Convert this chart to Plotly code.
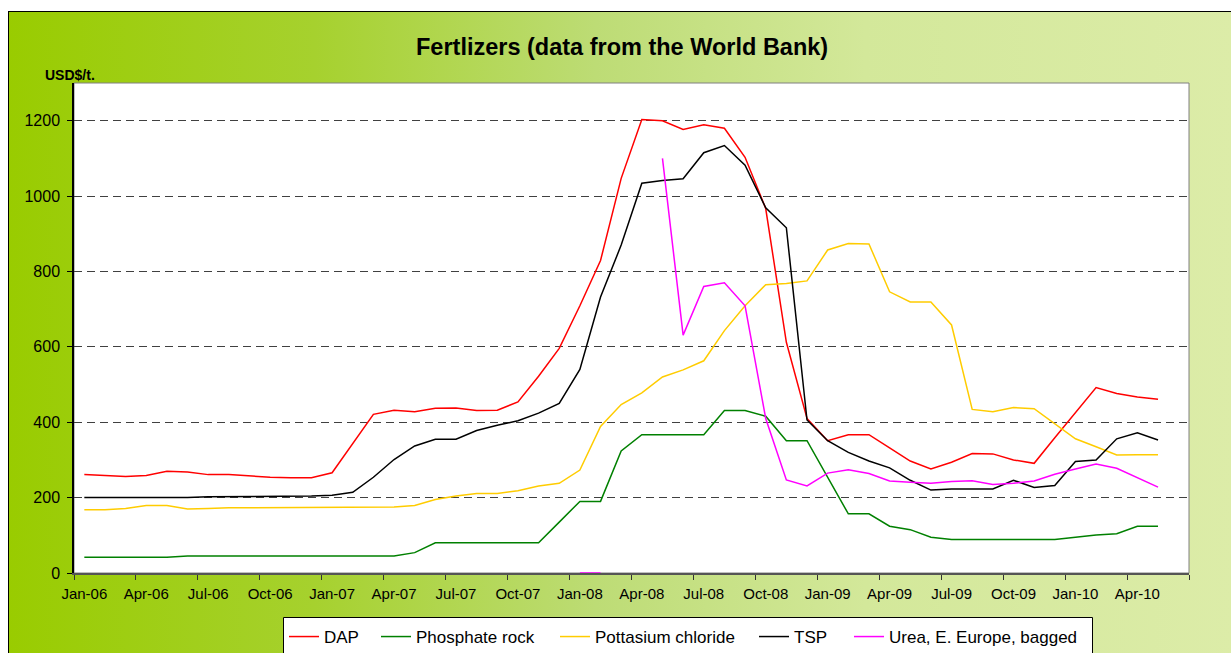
import base64
import plotly.graph_objects as go

# ---------------- data (monthly, Jan-06 .. May-10) ----------------
months = ["Jan", "Feb", "Mar", "Apr", "May", "Jun", "Jul", "Aug", "Sep", "Oct", "Nov", "Dec"]
categories = [f"{m}-{y:02d}" for y in range(6, 11) for m in months][:53]

dap = [261, 259, 256, 259, 270, 268, 261, 261, 257, 254, 253, 253,
       266, 343, 421, 432, 428, 437, 438, 431, 432, 454, 522, 596,
       709, 829, 1047, 1203, 1200, 1177, 1189, 1180, 1103, 967, 612, 410,
       351, 367, 367, 332, 297, 276, 294, 317, 316, 300, 291, 359,
       426, 492, 476, 467, 461]
phosphate_rock = [42, 42, 42, 42, 42, 45, 45, 45, 45, 45, 45, 45,
                  45, 45, 45, 45, 54, 80, 80, 80, 80, 80, 80, 135,
                  190, 190, 324, 367, 367, 367, 367, 431, 431, 416, 351, 351,
                  255, 157, 157, 124, 115, 95, 89, 89, 89, 89, 89, 89,
                  95, 101, 104, 124, 124]
potassium_chloride = [168, 168, 171, 179, 179, 170, 171, 173, 173, 173, 173, 173,
                      173, 173, 175, 175, 179, 195, 204, 211, 211, 218, 231, 238,
                      273, 389, 447, 478, 520, 539, 563, 643, 709, 765, 768, 775,
                      857, 874, 873, 746, 719, 719, 658, 434, 428, 439, 436, 397,
                      356, 335, 313, 314, 314]
tsp = [200, 200, 200, 200, 200, 200, 202, 202, 202, 202, 202, 204,
       206, 214, 254, 301, 337, 355, 355, 378, 392, 404, 424, 450,
       540, 732, 870, 1034, 1041, 1046, 1115, 1134, 1082, 969, 916, 406,
       351, 320, 297, 279, 246, 220, 223, 223, 223, 246, 227, 232,
       296, 300, 356, 372, 353]
urea = [None] * 24 + [0, 0, None, None,
        1100, 631, 760, 770, 709, 410, 247, 231,
        265, 274, 264, 244, 241, 238, 243, 245, 235, 238, 244, 262,
        276, 289, 278, 252, 228]

series_names = ["DAP", "Phosphate rock", "Pottasium chloride", "TSP", "Urea, E. Europe, bagged"]
series_values = [dap, phosphate_rock, potassium_chloride, tsp, urea]
series_colors = ["#FF0000", "#008000", "#FFCC00", "#000000", "#FF00FF"]

y_ticks = [0, 200, 400, 600, 800, 1000, 1200]
label_idx = list(range(0, 52, 3))
x_labels = [categories[i] for i in label_idx]
n_slots = 54  # axis holds one empty month after the last data point

# ---------------- geometry (pixels) ----------------
W, H = 1231, 653
L, R, T, B = 74, 1189, 83, 573
PW, PH = R - L, B - T


def px(x):
    return (x - L) / PW


def py(y):
    return (B - y) / PH


FONT = "Arial, Liberation Sans, sans-serif"
legend_line_starts = [291, 383, 562, 761, 856]

fig = go.Figure()
xs = list(range(len(categories)))
legend_ids = ["legend", "legend2", "legend3", "legend4", "legend5"]
for name, vals, color, lid in zip(series_names, series_values, series_colors, legend_ids):
    fig.add_trace(go.Scatter(x=xs, y=vals, name=name, mode="lines",
                             line=dict(color=color, width=1.5),
                             connectgaps=False, legend=lid))

# gradient background for the chart area
svg = ('<svg xmlns="http://www.w3.org/2000/svg" width="1223" height="642" '
       'preserveAspectRatio="none"><defs><linearGradient id="g" x1="0" y1="0" x2="1" y2="0">'
       '<stop offset="0" stop-color="#99CC00"/>'
       '<stop offset="0.25" stop-color="#A6D12E"/>'
       '<stop offset="0.48" stop-color="#BDDC75"/>'
       '<stop offset="0.7" stop-color="#D3E89A"/>'
       '<stop offset="1" stop-color="#DCECA8"/>'
       '</linearGradient></defs><rect x="0" y="0" width="1223" height="642" fill="url(#g)"/></svg>')
src = "data:image/svg+xml;base64," + base64.b64encode(svg.encode()).decode()

legend_common = dict(orientation="h", yanchor="top", xanchor="left",
                     bgcolor="rgba(0,0,0,0)", borderwidth=0,
                     font=dict(size=17, family=FONT, color="black"))
legends = {}
for lid, xs0 in zip(legend_ids, legend_line_starts):
    legends[lid] = dict(legend_common, x=px(xs0 - 7), y=py(619))

fig.update_layout(
    width=W, height=H,
    margin=dict(l=L, r=W - R, t=T, b=H - B, pad=0, autoexpand=False),
    paper_bgcolor="white",
    plot_bgcolor="rgba(0,0,0,0)",
    font=dict(family=FONT, color="black"),
    images=[dict(source=src, xref="paper", yref="paper",
                 x=px(8), y=py(11), sizex=px(W + 2) - px(8), sizey=py(11) - py(H + 2),
                 xanchor="left", yanchor="top", sizing="stretch", layer="below")],
    shapes=[
        dict(type="rect", xref="paper", yref="paper", x0=0, x1=1, y0=0, y1=1,
             fillcolor="white", line=dict(color="#808080", width=1), layer="below"),
        dict(type="line", xref="paper", yref="paper", x0=px(8.5), x1=px(8.5), y0=py(11), y1=py(H + 2),
             line=dict(color="black", width=1)),
        dict(type="line", xref="paper", yref="paper", x0=px(8), x1=px(W + 2), y0=py(11.5), y1=py(11.5),
             line=dict(color="black", width=1)),
        # legend box
        dict(type="rect", xref="paper", yref="paper", x0=px(283.5), x1=px(1092.5),
             y0=py(617.5), y1=py(H + 5), fillcolor="white", line=dict(color="black", width=1)),
    ],
    annotations=[
        dict(text="<b>Fertlizers (data from the World Bank)</b>", xref="paper", yref="paper",
             x=px(622), y=py(47), xanchor="center", yanchor="middle", showarrow=False,
             font=dict(size=23.5, family=FONT, color="black")),
        dict(text="<b>USD$/t.</b>", xref="paper", yref="paper",
             x=px(70), y=py(75), xanchor="center", yanchor="middle", showarrow=False,
             font=dict(size=14, family=FONT, color="black")),
    ],
    xaxis=dict(
        range=[-0.5, n_slots - 0.5], tickmode="array", tickvals=label_idx, ticktext=x_labels,
        ticks="", showgrid=False, zeroline=False, showline=True, linecolor="#555555", linewidth=2,
        tickfont=dict(size=15, family=FONT, color="black"), ticklabelstandoff=6,
        layer="below traces",
        minor=dict(tickmode="array", tickvals=[k - 0.5 for k in range(0, n_slots + 1, 3)],
                   ticks="outside", ticklen=5, tickcolor="#333333", tickwidth=1, showgrid=False),
    ),
    yaxis=dict(
        range=[0, 1300], tickmode="array", tickvals=y_ticks, ticks="outside", ticklen=5,
        tickcolor="black", showgrid=True, gridcolor="#404040", griddash="8px,5px", gridwidth=1,
        zeroline=False, showline=True, linecolor="black", linewidth=1.5,
        tickfont=dict(size=16, family=FONT, color="black"), ticklabelstandoff=4,
    ),
    showlegend=True,
    **legends,
)

fig.write_html("out.html", config={"displayModeBar": False},
               post_script="document.body.style.margin='0';document.body.style.overflow='hidden';")
